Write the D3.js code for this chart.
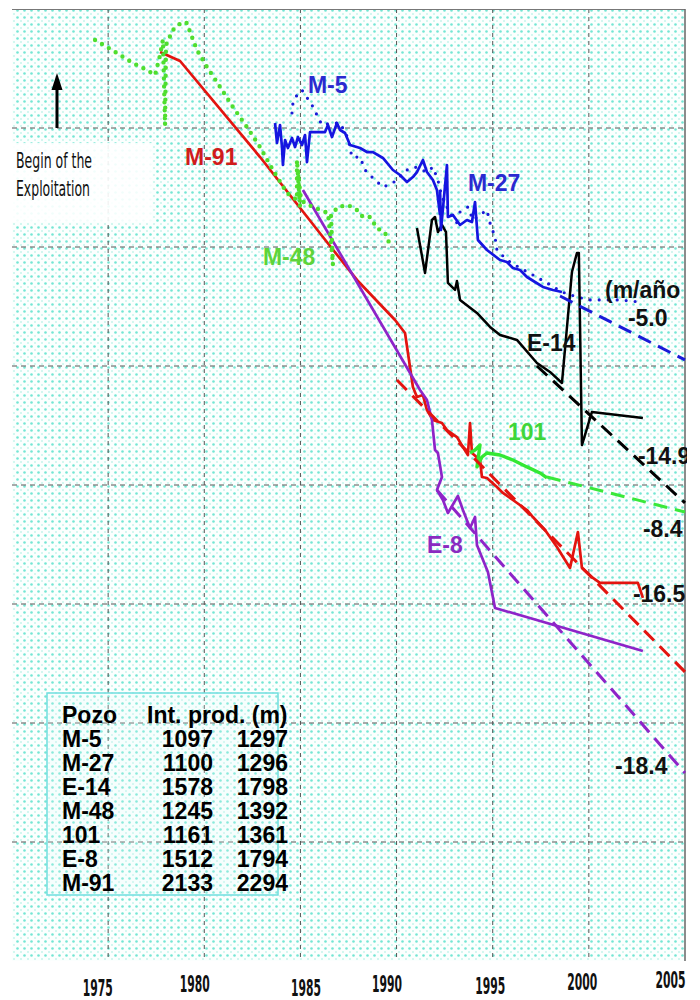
<!DOCTYPE html>
<html><head><meta charset="utf-8">
<script src="https://cdn.jsdelivr.net/npm/d3@7"></script>
<style>body{margin:0;background:#fff}</style>
</head><body>
<svg id="c" width="700" height="1000"></svg>
<script>
// ---------- DATA ----------
const years = [1975, 1980, 1985, 1990, 1995, 2000, 2005];
const levelTicks = [-100, -200, -300, -400, -500, -600, -700];

// [year, level (m)]
const m5 = [[1983.68,-95.8],[1983.78,-112.6],[1983.94,-97.5],[1984.04,-116.0],[1984.09,-131.1],[1984.20,-110.1],[1984.35,-116.8],[1984.56,-108.4],[1984.72,-116.0],[1984.87,-107.6],[1985.08,-114.3],[1985.24,-105.9],[1985.34,-128.6],[1985.50,-103.4],[1986.28,-103.4],[1986.43,-97.5],[1986.64,-107.6],[1986.90,-95.8],[1987.06,-101.7],[1987.32,-104.2],[1987.58,-114.3],[1988.10,-116.8],[1988.46,-120.2],[1988.77,-120.2],[1989.29,-125.2],[1989.81,-135.3],[1990.18,-139.5],[1990.54,-145.4],[1990.85,-141.2],[1991.06,-137.0],[1991.37,-126.9],[1991.58,-137.0],[1991.89,-143.7],[1992.10,-152.1],[1992.26,-173.1]];
const m27 = [[1992.26,-152.1],[1992.31,-185.7],[1992.62,-131.1],[1992.67,-174.8],[1992.93,-173.1],[1993.30,-181.5],[1993.66,-177.3],[1993.92,-179.0],[1994.08,-162.2],[1994.23,-194.1],[1994.70,-202.5],[1995.38,-210.9],[1995.74,-212.6],[1996.05,-217.6],[1996.42,-219.3],[1996.78,-225.2],[1997.20,-229.4],[1997.61,-233.6],[1998.13,-236.1],[1998.60,-237.8]];
const m5Dots = [[1984.56,-87.4],[1984.61,-79.0],[1984.82,-72.3],[1985.08,-68.1],[1985.60,-80.7],[1985.86,-89.1],[1986.12,-97.5],[1986.64,-95.8],[1987.06,-95.8],[1987.47,-108.4],[1987.68,-124.4],[1988.10,-124.4],[1988.36,-135.3],[1988.77,-142.0],[1989.29,-149.6],[1989.81,-146.2],[1990.54,-135.3],[1990.96,-132.8],[1991.58,-137.0],[1991.89,-132.8],[1992.15,-143.7],[1992.36,-158.0],[1992.78,-171.4],[1993.14,-179.8]];
const m27Dots = [[1993.30,-170.6],[1993.71,-166.4],[1993.97,-177.3],[1994.70,-168.9],[1994.86,-179.8],[1995.12,-191.6],[1995.22,-202.5],[1995.74,-210.9],[1996.42,-217.6],[1997.09,-223.5],[1997.82,-230.2],[1998.60,-237.8],[1999.38,-242.0],[2000.06,-244.5],[2000.73,-244.5],[2001.62,-244.5],[2002.66,-246.2]];
const e14 = [[1991.06,-184.0],[1991.48,-221.8],[1991.84,-177.3],[1992.00,-174.8],[1992.15,-187.4],[1992.36,-181.5],[1992.57,-187.4],[1992.67,-230.2],[1993.04,-236.1],[1993.14,-228.6],[1993.30,-244.5],[1994.18,-255.4],[1994.86,-267.2],[1995.38,-273.9],[1996.26,-278.1],[1997.30,-297.5],[1997.98,-305.0],[1998.60,-314.3],[1999.12,-221.0],[1999.38,-205.0],[1999.48,-205.0],[1999.64,-366.4],[2000.16,-338.6],[2002.81,-343.7]];
const m48Dots = [[1974.32,-26.0],[1974.94,-31.9],[1975.62,-38.7],[1976.29,-45.4],[1977.02,-51.3],[1977.44,-55.5],[1977.70,-38.7],[1977.85,-26.0],[1977.96,-97.5],[1978.01,-30.3],[1978.37,-17.6],[1978.84,-10.9],[1979.10,-11.8],[1979.26,-19.3],[1979.62,-34.5],[1980.14,-48.7],[1980.82,-65.5],[1981.49,-82.4],[1982.22,-99.2],[1982.90,-116.0],[1983.57,-135.3],[1984.30,-154.6],[1984.82,-160.5],[1984.82,-126.9],[1984.98,-166.4],[1984.87,-135.3],[1985.03,-160.5],[1985.24,-163.0],[1985.65,-166.4],[1986.43,-171.4],[1986.54,-188.2],[1986.64,-205.0],[1986.69,-215.1],[1986.59,-173.1],[1986.95,-166.4],[1987.47,-164.7],[1987.94,-168.9],[1988.25,-174.8],[1988.62,-174.8],[1988.98,-184.0],[1989.40,-188.2],[1989.66,-198.3]];
const w101 = [[1993.82,-373.1],[1994.08,-370.6],[1994.34,-366.4],[1994.18,-384.8],[1994.44,-376.5],[1994.70,-373.1],[1995.38,-374.8],[1996.05,-379.0],[1996.78,-384.8],[1997.46,-389.9],[1997.82,-394.1]];
const e8 = [[1985.13,-152.1],[1991.22,-320.2],[1991.58,-328.6],[1991.84,-345.4],[1992.00,-370.6],[1992.15,-373.1],[1992.36,-393.3],[1992.10,-404.2],[1992.41,-412.6],[1992.67,-423.5],[1993.19,-409.2],[1993.45,-421.0],[1993.82,-436.1],[1994.08,-426.9],[1994.18,-450.4],[1994.75,-473.1],[1995.12,-503.3],[2002.81,-539.5]];
const m91 = [[1977.70,-36.1],[1978.74,-43.7],[1982.90,-124.4],[1986.17,-191.6],[1987.94,-227.7],[1989.92,-261.3],[1990.44,-272.3],[1990.85,-317.6],[1991.06,-326.0],[1991.37,-324.4],[1991.58,-337.0],[1991.89,-345.4],[1992.36,-347.9],[1992.62,-353.8],[1993.14,-359.7],[1993.45,-368.1],[1993.71,-374.8],[1993.82,-347.9],[1993.92,-373.1],[1994.34,-379.0],[1994.44,-393.3],[1994.70,-394.1],[1995.22,-401.7],[1995.53,-406.7],[1996.05,-412.6],[1996.78,-421.0],[1997.09,-426.9],[1997.72,-437.8],[1998.34,-452.1],[1999.02,-469.7],[1999.43,-439.5],[1999.64,-469.7],[2000.21,-478.1],[2000.58,-482.3],[2002.55,-482.3],[2002.81,-494.9]];

// trend lines (start, end)
const trendM27 = [[1998.50,-241.2],[2005.00,-294.9]];
const trendE14 = [[1997.30,-300.0],[2005.00,-415.1]];
const trend101 = [[1997.82,-393.3],[2005.00,-422.7]];
const trendM91 = [[1990.02,-311.8],[2005.00,-557.1]];
const trendE8  = [[1992.10,-404.2],[2005.00,-642.0]];

// legend table
const wells      = ["M-5","M-27","E-14","M-48","101","E-8","M-91"];
const prodTop    = [1097, 1100, 1578, 1245, 1161, 1512, 2133];
const prodBottom = [1297, 1296, 1798, 1392, 1361, 1794, 2294];

// labels: text, year, level, colour
const seriesLabels = [
  ["M-5", 1985.39, -70.6, "#2a2ad0"],
  ["M-27", 1993.71, -152.9, "#2a2ad0"],
  ["M-91", 1979.00, -131.1, "#d01c1c"],
  ["M-48", 1983.05, -215.1, "#5ed43a"],
  ["E-14", 1996.78, -287.4, "#111"],
  ["101", 1995.79, -362.2, "#3fd63a"],
  ["E-8", 1991.58, -457.1, "#8a2bc0"],
  ["(m/año", 2000.84, -242.9, "#111"],
  ["-5.0", 2002.03, -266.4, "#111"],
  ["-14.9", 2002.55, -382.3, "#111"],
  ["-8.4", 2002.81, -443.7, "#111"],
  ["-16.5", 2002.29, -498.3, "#111"],
  ["-18.4", 2001.36, -642.8, "#111"]
];

// ---------- CHART ----------
const svg = d3.select("#c");
const x = d3.scaleLinear().domain([1970, 2005]).range([12, 685]);
const y = d3.scaleLinear().domain([0, -800]).range([9, 961]);
const line = d3.line().x(d => x(d[0])).y(d => y(d[1]));

const defs = svg.append("defs");
const pat = defs.append("pattern").attr("id","dots").attr("patternUnits","userSpaceOnUse")
  .attr("width",7).attr("height",7);
pat.append("rect").attr("width",7).attr("height",7).attr("fill","#fbfffe");
pat.append("circle").attr("cx",3.5).attr("cy",3.5).attr("r",1.3).attr("fill","#74e6d4");
[[0,0],[7,0],[0,7],[7,7]].forEach(p => pat.append("circle").attr("cx",p[0]).attr("cy",p[1]).attr("r",1.0).attr("fill","#c6f5ec"));
defs.append("clipPath").attr("id","clip").append("rect").attr("x",0).attr("y",0).attr("width",687).attr("height",962);

svg.append("rect").attr("x",x(1970)).attr("y",y(0)).attr("width",x(2005)-x(1970)).attr("height",y(-800)-y(0)).attr("fill","url(#dots)");

// grid
const grid = svg.append("g");
grid.selectAll(".v").data(years.filter(d => d < 2005)).join("line")
  .attr("x1", d => x(d)).attr("x2", d => x(d)).attr("y1", y(0)).attr("y2", y(-800))
  .attr("stroke","#555").attr("stroke-width",1).attr("stroke-dasharray","4,4");
grid.selectAll(".h").data(levelTicks).join("line")
  .attr("x1", x(1970)).attr("x2", x(2005)).attr("y1", d => y(d)).attr("y2", d => y(d))
  .attr("stroke","#555").attr("stroke-width",1).attr("stroke-dasharray","5,4");
svg.append("line").attr("x1",x(1970)).attr("x2",x(2005)).attr("y1",y(0)+0.5).attr("y2",y(0)+0.5).attr("stroke","#777").attr("stroke-width",1);
svg.append("line").attr("x1",x(2005)).attr("x2",x(2005)).attr("y1",y(0)).attr("y2",y(-800)).attr("stroke","#666").attr("stroke-width",1.5);

// Begin of exploitation annotation
svg.append("rect").attr("x",12).attr("y",143).attr("width",140).attr("height",79).attr("fill","#fff").attr("opacity",0.9);
svg.append("line").attr("x1",57).attr("x2",57).attr("y1",128).attr("y2",86).attr("stroke","#000").attr("stroke-width",3);
svg.append("path").attr("d","M57,73 L51.5,90 L62.5,90 Z").attr("fill","#000");
const cond = "'DejaVu Sans Condensed','Liberation Sans Narrow',sans-serif";
svg.append("text").attr("x",16).attr("y",168).attr("font-family",cond).attr("font-size",22)
  .attr("textLength",76).attr("lengthAdjust","spacingAndGlyphs").attr("fill","#111").text("Begin of the");
svg.append("text").attr("x",16).attr("y",196).attr("font-family",cond).attr("font-size",22)
  .attr("textLength",74).attr("lengthAdjust","spacingAndGlyphs").attr("fill","#111").text("Exploitation");

const plot = svg.append("g").attr("clip-path","url(#clip)");

// dotted series
plot.append("path").datum(m5Dots).attr("d",line).attr("fill","none").attr("stroke","#1a1ad8")
  .attr("stroke-width",3.2).attr("stroke-linecap","round").attr("stroke-dasharray","0,9");
plot.append("path").datum(m27Dots).attr("d",line).attr("fill","none").attr("stroke","#1a1ad8")
  .attr("stroke-width",3.2).attr("stroke-linecap","round").attr("stroke-dasharray","0,9");

// solid series
const solid = (data, color, w) => plot.append("path").datum(data).attr("d",line).attr("fill","none")
  .attr("stroke",color).attr("stroke-width",w).attr("stroke-linejoin","round");
solid(m91, "#e3140f", 2.7);
solid(e8, "#8e24c8", 2.7);
solid(e14, "#000", 2.5);
solid(m5, "#1515e0", 2.7);
solid(m27, "#1515e0", 2.7);
solid(w101, "#33e833", 3.4);

plot.append("path").datum(m48Dots).attr("d",line).attr("fill","none").attr("stroke","#4ede2e")
  .attr("stroke-width",4.4).attr("stroke-linecap","round").attr("stroke-dasharray","0,8");

// trend lines
const trend = (data, color) => plot.append("path").datum(data).attr("d",line).attr("fill","none")
  .attr("stroke",color).attr("stroke-width",3).attr("stroke-dasharray","14,8");
trend(trendM27, "#1a1ad8");
trend(trendE14, "#000");
trend(trend101, "#3ae83a");
trend(trendM91, "#e3140f");
trend(trendE8, "#8e24c8");

// labels
plot.selectAll(".lbl").data(seriesLabels).join("text")
  .attr("x", d => x(d[1])).attr("y", d => y(d[2]))
  .attr("fill", d => d[3]).attr("font-family","'Liberation Sans',Arial,sans-serif")
  .attr("font-weight","bold").attr("font-size",23).text(d => d[0]);

// legend table
const lg = svg.append("g").attr("font-family","'Liberation Sans',Arial,sans-serif").attr("font-weight","bold").attr("font-size",23).attr("fill","#000");
lg.append("rect").attr("x",47).attr("y",693).attr("width",231).attr("height",202)
  .attr("fill","#e8fbf8").attr("fill-opacity",0.2).attr("stroke","#6fdede").attr("stroke-width",1.5);
lg.append("text").attr("x",62).attr("y",723).text("Pozo");
lg.append("text").attr("x",147).attr("y",723).text("Int. prod. (m)");
wells.forEach((w, i) => {
  const yy = 747 + i * 24;
  lg.append("text").attr("x",62).attr("y",yy).text(w);
  lg.append("text").attr("x",213).attr("y",yy).attr("text-anchor","end").text(prodTop[i]);
  lg.append("text").attr("x",288).attr("y",yy).attr("text-anchor","end").text(prodBottom[i]);
});

// x axis labels
const tickNudge = {1975:[-11,2],1980:[-10,-2],1985:[5,2],1990:[-10,-2],1995:[-3,0],2000:[-7,-4],2005:[-15,-6]};
const ax = d3.axisBottom(x).tickValues(years).tickSize(0).tickFormat(d3.format("d"));
const ag = svg.append("g").attr("transform","translate(0,975)").call(ax);
ag.select(".domain").remove();
ag.selectAll(".tick text")
  .attr("x", d => tickNudge[d][0]).attr("y", d => 3 + tickNudge[d][1])
  .attr("font-family",cond).attr("font-weight","bold").attr("font-size",23).attr("fill","#111")
  .attr("textLength",30).attr("lengthAdjust","spacingAndGlyphs");
</script>
</body></html>
